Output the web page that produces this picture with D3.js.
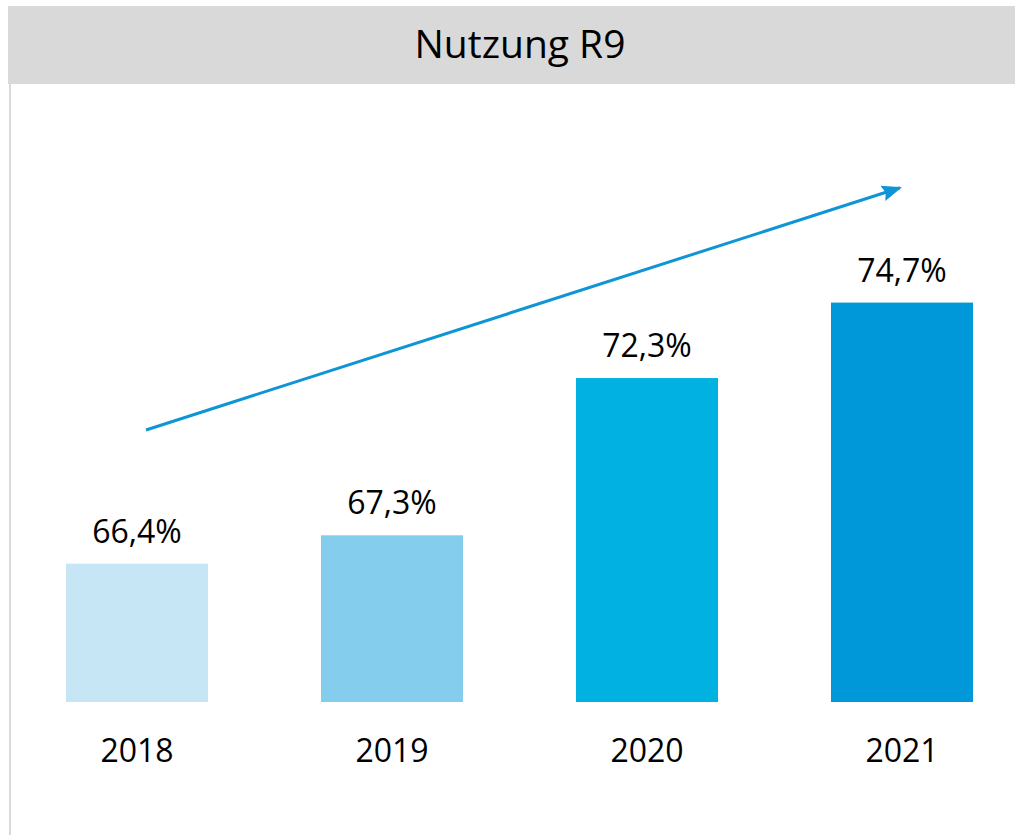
<!DOCTYPE html>
<html>
  <head>
    <meta charset="UTF-8">
    <title>Nutzung R9</title>
    <style>
      body { margin: 0; background: #fff; }
      svg { display: block; }
      text { font-family: "Open Sans", "Noto Sans", sans-serif; fill: #000; }
    </style>
  </head>
  <body>
    <svg class="chart"></svg>
    <script src="https://d3js.org/d3.v7.min.js"></script>
    <script>

// data
var title = "Nutzung R9";
var years = ["2018", "2019", "2020", "2021"];
var values = [66.4, 67.3, 72.3, 74.7];
var barColors = ["#c6e6f6", "#85cdec", "#00b1e1", "#0098d9"];
// trend arrow, from first to last year (value units)
var trendYears = ["2018", "2021"];
var trendValues = [70.65, 78.35];

var width = 1015, height = 835;

var svg = d3.select("svg.chart")
    .attr("width", width)
    .attr("height", height);

// header bar + left frame line
svg.append("rect")
    .attr("x", 8).attr("y", 6)
    .attr("width", width - 8).attr("height", 78)
    .attr("fill", "#d9d9d9");

svg.append("line")
    .attr("x1", 10).attr("x2", 10)
    .attr("y1", 84).attr("y2", height)
    .attr("stroke", "#d9d9d9")
    .attr("stroke-width", 2);

svg.append("text")
    .attr("x", 520)
    .attr("y", 58)
    .attr("text-anchor", "middle")
    .style("font-size", "39px")
    .text(title);

// scales
var x = d3.scaleBand()
    .domain(years)
    .range([9.5, 1029.5])
    .paddingInner(0.443)
    .paddingOuter(0.2215);

var baseY = 702;
var y = d3.scaleLinear()
    .domain([62, 75])
    .range([baseY, baseY - 13 * 31.45]);

var data = years.map(function(d, i) { return {year: d, value: values[i], color: barColors[i]}; });

var fmt = function(v) { return d3.format(".1f")(v).replace(".", ",") + "%"; };

// bars
svg.append("g")
  .selectAll("rect")
  .data(data)
  .enter().append("rect")
    .attr("x", function(d) { return x(d.year); })
    .attr("y", function(d) { return y(d.value); })
    .attr("width", x.bandwidth())
    .attr("height", function(d) { return baseY - y(d.value); })
    .attr("fill", function(d) { return d.color; });

// value labels
svg.append("g")
  .selectAll("text")
  .data(data)
  .enter().append("text")
    .attr("x", function(d) { return x(d.year) + x.bandwidth() / 2; })
    .attr("y", function(d) { return y(d.value) - 21; })
    .attr("text-anchor", "middle")
    .style("font-size", "32px")
    .text(function(d) { return fmt(d.value); });

// category labels
svg.append("g")
  .selectAll("text")
  .data(data)
  .enter().append("text")
    .attr("x", function(d) { return x(d.year) + x.bandwidth() / 2; })
    .attr("y", baseY + 60)
    .attr("text-anchor", "middle")
    .style("font-size", "32px")
    .text(function(d) { return d.year; });

// trend arrow
var arrowColor = "#0f94d6";
svg.append("defs").append("marker")
    .attr("id", "arrowhead")
    .attr("markerUnits", "userSpaceOnUse")
    .attr("viewBox", "0 0 20 16")
    .attr("refX", 18).attr("refY", 8)
    .attr("markerWidth", 20).attr("markerHeight", 16)
    .attr("orient", "auto")
  .append("path")
    .attr("d", "M0,0 L20,8 L0,16 L3,8 Z")
    .attr("fill", arrowColor);

var cx = function(yr) { return x(yr) + x.bandwidth() / 2; };

svg.append("line")
    .attr("x1", cx(trendYears[0]) + 9)
    .attr("y1", y(trendValues[0]))
    .attr("x2", cx(trendYears[1]) - 2)
    .attr("y2", y(trendValues[1]))
    .attr("stroke", arrowColor)
    .attr("stroke-width", 3)
    .attr("marker-end", "url(#arrowhead)");

    </script>
  </body>
</html>
